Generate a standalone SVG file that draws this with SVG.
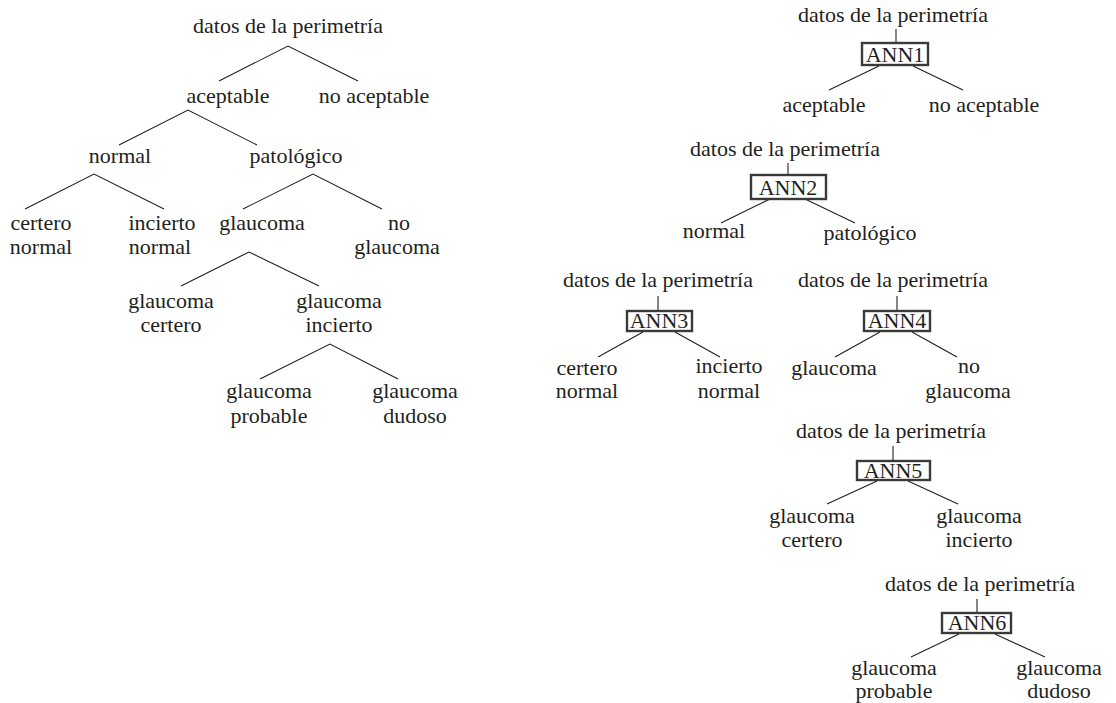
<svg xmlns="http://www.w3.org/2000/svg" width="1116" height="703" viewBox="0 0 1116 703">
  <style>
    text { font-family: "Liberation Serif", "Times New Roman", serif; font-size: 22px; fill: #231f20; text-anchor: middle; }
    .edge { stroke: #231f20; stroke-width: 1.1; fill: none; }
    .ann { fill: #ffffff; stroke: #3a3a3a; stroke-width: 2.4; }
  </style>
  <rect width="1116" height="703" fill="#ffffff"/>

  <!-- Connectors of the full decision tree (left) and of the ANN modules (right) -->
  <g id="connectors">
    <!-- full tree -->
    <path class="edge" d="M219 81 L288 46 L358 81"/>
    <path class="edge" d="M119 145 L188 110 L257 145"/>
    <path class="edge" d="M25 209 L94 174 L164 209"/>
    <path class="edge" d="M243 209 L313 174 L382 209"/>
    <path class="edge" d="M181 286 L249 252 L319 286"/>
    <path class="edge" d="M260 379 L330 344 L398 379"/>
    <!-- ANN1 -->
    <path class="edge" d="M896 29 V43"/>
    <path class="edge" d="M879 66 L829 90 M913 66 L963 90"/>
    <!-- ANN2 -->
    <path class="edge" d="M788 163 V175"/>
    <path class="edge" d="M770 199 L721 223 M805 199 L855 223"/>
    <!-- ANN3 -->
    <path class="edge" d="M658 296 V311"/>
    <path class="edge" d="M643 332 L598 357 M675 332 L720 357"/>
    <!-- ANN4 -->
    <path class="edge" d="M897 296 V311"/>
    <path class="edge" d="M880 332 L835 357 M912 332 L957 357"/>
    <!-- ANN5 -->
    <path class="edge" d="M893 446 V461"/>
    <path class="edge" d="M877 481 L827 504 M908 481 L958 504"/>
    <!-- ANN6 -->
    <path class="edge" d="M977 599 V613"/>
    <path class="edge" d="M959 634 L911 657 M995 634 L1045 657"/>
  </g>

  <!-- Full decision tree -->
  <g id="tree-root"><text x="288" y="33">datos de la perimetría</text></g>
  <g id="tree-aceptable"><text x="228" y="103">aceptable</text></g>
  <g id="tree-no-aceptable"><text x="374" y="103">no aceptable</text></g>
  <g id="tree-normal"><text x="120" y="163">normal</text></g>
  <g id="tree-patologico"><text x="296" y="163">patológico</text></g>
  <g id="tree-certero-normal"><text x="41" y="230">certero</text><text x="41" y="254">normal</text></g>
  <g id="tree-incierto-normal"><text x="162" y="230">incierto</text><text x="160" y="254">normal</text></g>
  <g id="tree-glaucoma"><text x="262" y="230">glaucoma</text></g>
  <g id="tree-no-glaucoma"><text x="399" y="230">no</text><text x="397" y="254">glaucoma</text></g>
  <g id="tree-glaucoma-certero"><text x="171" y="308">glaucoma</text><text x="171" y="332">certero</text></g>
  <g id="tree-glaucoma-incierto"><text x="339" y="308">glaucoma</text><text x="339" y="332">incierto</text></g>
  <g id="tree-glaucoma-probable"><text x="269" y="398">glaucoma</text><text x="269" y="423">probable</text></g>
  <g id="tree-glaucoma-dudoso"><text x="415" y="398">glaucoma</text><text x="415" y="423">dudoso</text></g>

  <!-- ANN1 -->
  <g id="ann1">
    <text x="893" y="22">datos de la perimetría</text>
    <rect class="ann" x="862" y="43" width="66" height="22"/>
    <text x="895" y="62">ANN1</text>
    <text x="824" y="112">aceptable</text>
    <text x="984" y="112">no aceptable</text>
  </g>

  <!-- ANN2 -->
  <g id="ann2">
    <text x="785" y="156">datos de la perimetría</text>
    <rect class="ann" x="751" y="175" width="75" height="24"/>
    <text x="788" y="195">ANN2</text>
    <text x="714" y="238">normal</text>
    <text x="870" y="240">patológico</text>
  </g>

  <!-- ANN3 -->
  <g id="ann3">
    <text x="658" y="287">datos de la perimetría</text>
    <rect class="ann" x="627" y="311" width="65" height="20"/>
    <text x="659" y="328">ANN3</text>
    <text x="587" y="375">certero</text>
    <text x="587" y="398">normal</text>
    <text x="729" y="373">incierto</text>
    <text x="729" y="398">normal</text>
  </g>

  <!-- ANN4 -->
  <g id="ann4">
    <text x="893" y="287">datos de la perimetría</text>
    <rect class="ann" x="864" y="311" width="66" height="20"/>
    <text x="897" y="328">ANN4</text>
    <text x="834" y="375">glaucoma</text>
    <text x="969" y="373">no</text>
    <text x="968" y="398">glaucoma</text>
  </g>

  <!-- ANN5 -->
  <g id="ann5">
    <text x="891" y="438">datos de la perimetría</text>
    <rect class="ann" x="857" y="461" width="73" height="19"/>
    <text x="893" y="478">ANN5</text>
    <text x="812" y="523">glaucoma</text>
    <text x="812" y="547">certero</text>
    <text x="979" y="523">glaucoma</text>
    <text x="979" y="547">incierto</text>
  </g>

  <!-- ANN6 -->
  <g id="ann6">
    <text x="980" y="591">datos de la perimetría</text>
    <rect class="ann" x="942" y="613" width="69" height="20"/>
    <text x="977" y="630">ANN6</text>
    <text x="894" y="675">glaucoma</text>
    <text x="894" y="698">probable</text>
    <text x="1059" y="675">glaucoma</text>
    <text x="1059" y="698">dudoso</text>
  </g>
</svg>
